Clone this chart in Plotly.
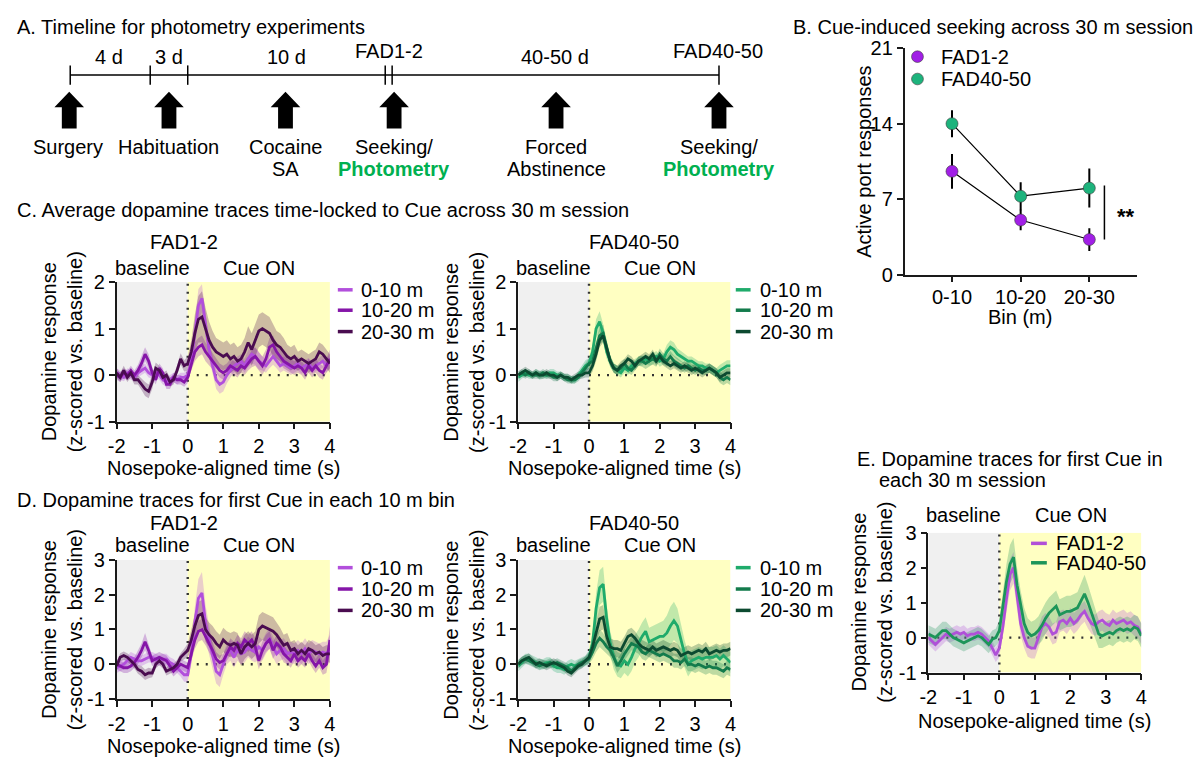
import plotly.graph_objects as go

W, H = 1197, 771
FONT = "Liberation Sans, Arial, sans-serif"
FS = 20

# ---------------- DATA ----------------
BINS = ["0-10", "10-20", "20-30"]
SEEK_FAD12 = [9.6, 5.1, 3.3]
SEEK_FAD12_SEM = [1.6, 0.95, 1.05]
SEEK_FAD4050 = [14.0, 7.3, 8.05]
SEEK_FAD4050_SEM = [1.25, 1.3, 1.8]

TIME = [-2.0, -1.9, -1.8, -1.7, -1.6, -1.5, -1.4, -1.3, -1.2, -1.1,
        -1.0, -0.9, -0.8, -0.7, -0.6, -0.5, -0.4, -0.3, -0.2, -0.1,
        0.0, 0.1, 0.2, 0.3, 0.4, 0.5, 0.6, 0.7, 0.8, 0.9,
        1.0, 1.1, 1.2, 1.3, 1.4, 1.5, 1.6, 1.7, 1.8, 1.9,
        2.0, 2.1, 2.2, 2.3, 2.4, 2.5, 2.6, 2.7, 2.8, 2.9,
        3.0, 3.1, 3.2, 3.3, 3.4, 3.5, 3.6, 3.7, 3.8, 3.9, 4.0]
X_TICKS = [-2, -1, 0, 1, 2, 3, 4]
X_TICKTEXT = ["-2", "-1", "0", "1", "2", "3", "4"]
BIN_LABELS = ["0-10 m", "10-20 m", "20-30 m"]

# C: average traces, FAD1-2
C12_0_10 = [0.05, 0.0, -0.05, 0.05, 0.0, -0.05, 0.05, 0.1, 0.15, 0.05,
            0.0, 0.05, 0.0, -0.1, -0.15, -0.1, -0.05, -0.1, -0.05, -0.05,
            0.0, 0.3, 0.9, 1.5, 1.65, 1.1, 0.55, 0.2, -0.1, -0.2,
            -0.15, 0.0, 0.1, 0.2, 0.25, 0.3, 0.2, 0.35, 0.45, 0.4,
            0.3, 0.25, 0.2, 0.3, 0.4, 0.3, 0.2, 0.25, 0.2, 0.15,
            0.2, 0.25, 0.15, 0.2, 0.25, 0.15, 0.2, 0.25, 0.3, 0.2, 0.3]
C12_0_10_SEM = [0.1, 0.1, 0.08, 0.1, 0.1, 0.08, 0.1, 0.1, 0.1, 0.1,
                0.08, 0.1, 0.1, 0.1, 0.1, 0.1, 0.1, 0.1, 0.1, 0.1,
                0.12, 0.2, 0.3, 0.35, 0.3, 0.25, 0.2, 0.2, 0.2, 0.2,
                0.2, 0.18, 0.15, 0.15, 0.15, 0.15, 0.15, 0.18, 0.2, 0.18,
                0.18, 0.15, 0.15, 0.15, 0.18, 0.15, 0.15, 0.15, 0.15, 0.15,
                0.15, 0.15, 0.12, 0.12, 0.12, 0.12, 0.12, 0.12, 0.15, 0.15, 0.15]
C12_10_20 = [0.0, -0.05, 0.05, 0.0, 0.1, 0.0, 0.1, 0.25, 0.45, 0.3,
             0.05, -0.1, 0.15, 0.05, -0.2, -0.2, -0.05, -0.1, -0.1, -0.15,
             -0.05, 0.25, 0.5, 0.6, 0.65, 0.5, 0.4, 0.3, 0.2, 0.1,
             0.05, 0.1, 0.2, 0.15, 0.1, 0.2, 0.15, 0.25, 0.35, 0.4,
             0.3, 0.2, 0.35, 0.6, 0.65, 0.5, 0.4, 0.3, 0.25, 0.2,
             0.15, 0.2, 0.15, 0.05, 0.2, 0.1, 0.2, 0.1, 0.05, 0.2, 0.35]
C12_10_20_SEM = [0.1, 0.1, 0.1, 0.1, 0.1, 0.1, 0.12, 0.15, 0.15, 0.15,
                 0.12, 0.1, 0.1, 0.1, 0.1, 0.1, 0.1, 0.1, 0.1, 0.1,
                 0.12, 0.15, 0.2, 0.2, 0.2, 0.2, 0.18, 0.18, 0.15, 0.15,
                 0.15, 0.15, 0.15, 0.15, 0.15, 0.15, 0.15, 0.15, 0.18, 0.2,
                 0.2, 0.2, 0.2, 0.2, 0.2, 0.18, 0.15, 0.15, 0.15, 0.15,
                 0.15, 0.15, 0.15, 0.15, 0.15, 0.15, 0.15, 0.15, 0.15, 0.15, 0.2]
C12_20_30 = [0.05, -0.05, 0.1, -0.05, 0.05, -0.1, -0.1, -0.2, -0.3, -0.35,
             -0.15, 0.15, 0.1, -0.05, 0.0, -0.15, -0.1, 0.1, 0.35, 0.2,
             0.25, 0.5, 0.9, 1.2, 1.25, 1.0, 0.75, 0.6, 0.5, 0.45,
             0.4, 0.45, 0.35, 0.4, 0.3, 0.35, 0.5, 0.7, 0.55, 0.75,
             0.95, 1.0, 0.95, 0.9, 0.75, 0.65, 0.6, 0.5, 0.4, 0.35,
             0.4, 0.3, 0.35, 0.3, 0.25, 0.3, 0.35, 0.5, 0.45, 0.35, 0.25]
C12_20_30_SEM = [0.1, 0.1, 0.1, 0.1, 0.1, 0.1, 0.1, 0.12, 0.15, 0.15,
                 0.15, 0.12, 0.1, 0.1, 0.1, 0.1, 0.1, 0.1, 0.12, 0.12,
                 0.15, 0.25, 0.4, 0.5, 0.55, 0.45, 0.4, 0.35, 0.3, 0.3,
                 0.3, 0.3, 0.3, 0.3, 0.3, 0.3, 0.3, 0.35, 0.35, 0.35,
                 0.35, 0.35, 0.35, 0.35, 0.35, 0.3, 0.3, 0.3, 0.25, 0.25,
                 0.25, 0.2, 0.2, 0.2, 0.2, 0.2, 0.2, 0.2, 0.2, 0.2, 0.2]

# C: average traces, FAD40-50
C4050_0_10 = [-0.05, 0.0, 0.05, 0.0, 0.0, 0.05, 0.0, 0.0, 0.0, 0.05,
              0.05, 0.0, 0.0, -0.05, -0.05, -0.1, -0.1, 0.0, 0.1, 0.2,
              0.25, 0.5, 1.0, 1.15, 0.9, 0.5, 0.3, 0.15, 0.1, 0.05,
              0.15, 0.1, 0.2, 0.25, 0.3, 0.3, 0.35, 0.3, 0.35, 0.4,
              0.3, 0.35, 0.5, 0.6, 0.55, 0.45, 0.4, 0.35, 0.3, 0.3,
              0.25, 0.2, 0.2, 0.15, 0.15, 0.1, 0.05, 0.1, 0.15, 0.2, 0.2]
C4050_0_10_SEM = [0.1, 0.08, 0.08, 0.08, 0.08, 0.08, 0.1, 0.08, 0.08, 0.08,
                  0.08, 0.08, 0.08, 0.08, 0.08, 0.08, 0.08, 0.1, 0.1, 0.12,
                  0.12, 0.15, 0.2, 0.22, 0.2, 0.15, 0.12, 0.1, 0.1, 0.1,
                  0.1, 0.1, 0.1, 0.1, 0.1, 0.1, 0.1, 0.1, 0.12, 0.12,
                  0.12, 0.12, 0.15, 0.15, 0.15, 0.12, 0.12, 0.1, 0.1, 0.1,
                  0.1, 0.1, 0.1, 0.1, 0.1, 0.1, 0.1, 0.12, 0.12, 0.12, 0.12]
C4050_10_20 = [0.0, 0.05, 0.0, 0.05, 0.0, 0.0, 0.0, 0.05, 0.0, 0.0,
               -0.05, -0.05, 0.0, -0.05, -0.1, -0.1, -0.1, -0.05, 0.05, 0.15,
               0.25, 0.3, 0.55, 0.85, 0.9, 0.6, 0.3, 0.15, 0.1, 0.15,
               0.25, 0.15, 0.1, 0.2, 0.3, 0.3, 0.25, 0.3, 0.35, 0.3,
               0.45, 0.35, 0.3, 0.4, 0.3, 0.25, 0.2, 0.15, 0.2, 0.15,
               0.1, 0.15, 0.1, 0.1, 0.15, 0.1, 0.05, -0.05, -0.1, -0.05, -0.1]
C4050_10_20_SEM = [0.08, 0.08, 0.08, 0.08, 0.08, 0.08, 0.08, 0.08, 0.08, 0.08,
                   0.08, 0.08, 0.08, 0.08, 0.08, 0.08, 0.08, 0.08, 0.1, 0.1,
                   0.12, 0.12, 0.15, 0.18, 0.18, 0.15, 0.12, 0.1, 0.1, 0.1,
                   0.1, 0.1, 0.1, 0.1, 0.1, 0.12, 0.12, 0.12, 0.12, 0.12,
                   0.12, 0.12, 0.12, 0.12, 0.12, 0.12, 0.1, 0.1, 0.1, 0.1,
                   0.1, 0.1, 0.1, 0.1, 0.1, 0.1, 0.1, 0.12, 0.12, 0.12, 0.12]
C4050_20_30 = [0.0, 0.05, 0.1, 0.05, 0.0, 0.05, 0.0, 0.0, 0.05, 0.0,
               0.0, -0.05, 0.0, -0.05, -0.05, -0.1, -0.05, 0.0, 0.0, 0.05,
               0.05, 0.2, 0.45, 0.75, 0.85, 0.55, 0.3, 0.15, 0.1, 0.2,
               0.25, 0.35, 0.3, 0.2, 0.3, 0.35, 0.4, 0.35, 0.45, 0.3,
               0.4, 0.3, 0.25, 0.2, 0.25, 0.2, 0.15, 0.2, 0.15, 0.1,
               0.15, 0.1, 0.05, 0.1, 0.15, 0.1, 0.05, -0.05, 0.0, 0.05, 0.05]
C4050_20_30_SEM = [0.08, 0.08, 0.08, 0.08, 0.08, 0.08, 0.08, 0.08, 0.08, 0.08,
                   0.08, 0.08, 0.08, 0.08, 0.08, 0.08, 0.08, 0.08, 0.08, 0.1,
                   0.1, 0.12, 0.15, 0.15, 0.15, 0.12, 0.1, 0.1, 0.1, 0.1,
                   0.1, 0.1, 0.1, 0.1, 0.1, 0.1, 0.1, 0.1, 0.1, 0.1,
                   0.1, 0.1, 0.1, 0.1, 0.1, 0.1, 0.1, 0.1, 0.1, 0.1,
                   0.1, 0.1, 0.1, 0.1, 0.1, 0.1, 0.1, 0.1, 0.1, 0.1, 0.1]

# D: first cue in each bin, FAD1-2
D12_0_10 = [-0.1, -0.05, 0.0, 0.1, 0.2, 0.15, 0.1, 0.1, 0.15, 0.2,
            0.2, 0.15, 0.1, 0.15, 0.15, 0.05, 0.0, -0.1, -0.2, -0.3,
            -0.3, 0.3, 1.2, 1.9, 2.05, 1.2, 0.7, 0.2, -0.2, -0.3,
            0.0, 0.3, 0.4, 0.2, 0.4, 0.3, 0.35, 0.5, 0.4, 0.35,
            0.5, 0.4, 0.6, 0.75, 0.5, 0.3, 0.4, 0.45, 0.3, 0.35,
            0.3, 0.4, 0.3, 0.45, 0.3, 0.4, 0.35, 0.3, 0.35, 0.3, 0.45]
D12_0_10_SEM = [0.15, 0.15, 0.15, 0.15, 0.15, 0.15, 0.15, 0.15, 0.15, 0.15,
                0.15, 0.15, 0.15, 0.15, 0.15, 0.15, 0.15, 0.15, 0.15, 0.2,
                0.2, 0.3, 0.45, 0.55, 0.6, 0.5, 0.4, 0.35, 0.35, 0.35,
                0.3, 0.3, 0.3, 0.3, 0.3, 0.3, 0.3, 0.3, 0.3, 0.3,
                0.3, 0.3, 0.3, 0.3, 0.3, 0.3, 0.3, 0.3, 0.3, 0.3,
                0.3, 0.3, 0.3, 0.3, 0.3, 0.3, 0.3, 0.3, 0.3, 0.35, 0.4]
D12_10_20 = [0.0, -0.05, -0.1, -0.1, -0.05, 0.05, 0.2, 0.4, 0.65, 0.4,
             0.1, 0.15, 0.2, 0.15, 0.1, -0.05, -0.2, -0.1, 0.0, -0.05,
             -0.1, 0.3, 0.7, 0.95, 1.0, 0.8, 0.6, 0.4, 0.15, 0.05,
             0.1, 0.3, 0.5, 0.4, 0.6, 0.5, 0.7, 0.6, 0.7, 0.5,
             0.1, 0.4, 0.6, 0.7, 0.4, 0.6, 0.5, 0.3, 0.2, 0.1,
             0.3, 0.1, 0.2, 0.1, 0.3, 0.1, -0.05, 0.1, -0.1, 0.0, 0.7]
D12_10_20_SEM = [0.15, 0.15, 0.15, 0.15, 0.15, 0.15, 0.2, 0.2, 0.25, 0.2,
                 0.15, 0.15, 0.15, 0.15, 0.15, 0.15, 0.15, 0.15, 0.15, 0.15,
                 0.15, 0.2, 0.25, 0.3, 0.3, 0.25, 0.25, 0.25, 0.2, 0.2,
                 0.2, 0.2, 0.25, 0.25, 0.25, 0.25, 0.25, 0.25, 0.25, 0.25,
                 0.25, 0.25, 0.25, 0.25, 0.25, 0.25, 0.25, 0.25, 0.2, 0.2,
                 0.2, 0.2, 0.2, 0.2, 0.2, 0.2, 0.2, 0.2, 0.2, 0.25, 0.4]
D12_20_30 = [-0.05, 0.2, 0.25, 0.2, 0.1, 0.0, -0.15, -0.2, -0.3, -0.25,
             -0.25, 0.0, 0.1, 0.0, -0.2, -0.15, -0.1, 0.0, 0.2, 0.3,
             0.4, 0.7, 1.1, 1.4, 1.45, 1.0, 0.85, 0.75, 0.6, 0.5,
             0.7, 0.6, 0.55, 0.6, 0.55, 0.3, 0.5, 0.6, 0.5, 0.6,
             1.0, 1.1, 1.05, 1.0, 0.95, 0.85, 0.7, 0.55, 0.6, 0.4,
             0.45, 0.3, 0.4, 0.3, 0.45, 0.4, 0.3, 0.35, 0.25, 0.3, 0.3]
D12_20_30_SEM = [0.12, 0.12, 0.12, 0.12, 0.12, 0.12, 0.12, 0.15, 0.15, 0.15,
                 0.12, 0.12, 0.12, 0.12, 0.12, 0.12, 0.12, 0.12, 0.12, 0.15,
                 0.2, 0.3, 0.35, 0.4, 0.4, 0.35, 0.35, 0.35, 0.35, 0.35,
                 0.35, 0.35, 0.35, 0.35, 0.35, 0.35, 0.35, 0.35, 0.35, 0.35,
                 0.4, 0.4, 0.4, 0.4, 0.4, 0.35, 0.35, 0.3, 0.3, 0.25,
                 0.25, 0.25, 0.25, 0.25, 0.25, 0.25, 0.25, 0.25, 0.25, 0.25, 0.25]

# D: first cue in each bin, FAD40-50
D4050_0_10 = [-0.05, 0.05, 0.15, 0.15, 0.1, 0.05, 0.0, 0.0, 0.05, 0.05,
              -0.05, -0.1, -0.1, -0.15, -0.05, 0.0, -0.05, 0.0, 0.05, 0.1,
              0.2, 0.6, 1.6, 2.2, 2.3, 1.3, 0.6, 0.2, 0.0, -0.05,
              0.1, 0.0, 0.2, 0.45, 0.6, 0.8, 0.95, 0.65, 0.7, 0.75,
              0.8, 0.8, 0.9, 1.1, 1.25, 1.1, 0.7, 0.3, 0.0, 0.1,
              0.15, 0.2, 0.15, 0.2, 0.2, 0.2, 0.25, 0.15, 0.25, 0.15, 0.05]
D4050_0_10_SEM = [0.15, 0.15, 0.15, 0.15, 0.15, 0.15, 0.15, 0.15, 0.15, 0.15,
                  0.15, 0.15, 0.15, 0.15, 0.15, 0.15, 0.15, 0.15, 0.15, 0.15,
                  0.2, 0.3, 0.45, 0.5, 0.5, 0.4, 0.35, 0.35, 0.35, 0.35,
                  0.35, 0.35, 0.4, 0.4, 0.4, 0.4, 0.4, 0.4, 0.4, 0.4,
                  0.4, 0.45, 0.5, 0.55, 0.55, 0.5, 0.45, 0.4, 0.35, 0.3,
                  0.3, 0.3, 0.3, 0.3, 0.3, 0.3, 0.3, 0.3, 0.3, 0.3, 0.3]
D4050_10_20 = [0.0, 0.1, 0.15, 0.1, 0.05, 0.0, -0.05, 0.0, 0.0, 0.05,
               0.0, 0.05, 0.0, -0.05, -0.1, -0.2, -0.1, 0.0, 0.05, 0.1,
               0.15, 0.35, 0.6, 0.75, 0.65, 0.5, 0.4, 0.2, -0.05, 0.1,
               0.3, 0.45, 0.6, 0.55, 0.5, 0.35, 0.3, 0.4, 0.35, 0.3,
               0.25, 0.3, 0.25, 0.2, 0.1, 0.1, 0.05, 0.15, 0.0, 0.0,
               -0.05, 0.0, -0.05, -0.1, -0.05, -0.1, -0.1, -0.15, -0.2, -0.1, -0.15]
D4050_10_20_SEM = [0.12, 0.12, 0.12, 0.12, 0.12, 0.12, 0.12, 0.12, 0.12, 0.12,
                   0.12, 0.12, 0.12, 0.12, 0.12, 0.12, 0.12, 0.12, 0.12, 0.12,
                   0.15, 0.2, 0.25, 0.25, 0.25, 0.2, 0.2, 0.2, 0.2, 0.2,
                   0.2, 0.2, 0.2, 0.2, 0.2, 0.2, 0.2, 0.2, 0.2, 0.2,
                   0.2, 0.2, 0.2, 0.2, 0.2, 0.2, 0.2, 0.2, 0.2, 0.2,
                   0.2, 0.2, 0.2, 0.2, 0.2, 0.2, 0.2, 0.2, 0.2, 0.2, 0.2]
D4050_20_30 = [0.0, 0.1, 0.15, 0.2, 0.1, 0.0, 0.05, 0.0, -0.05, 0.0,
               0.05, 0.0, -0.05, -0.1, -0.2, -0.25, -0.15, -0.05, 0.0, 0.1,
               0.2, 0.5, 0.9, 1.3, 1.35, 0.8, 0.5, 0.45, 0.45, 0.4,
               0.6, 0.8, 0.85, 0.75, 0.6, 0.5, 0.45, 0.4, 0.5, 0.4,
               0.45, 0.5, 0.45, 0.4, 0.45, 0.4, 0.25, 0.3, 0.35, 0.3,
               0.35, 0.4, 0.35, 0.45, 0.3, 0.35, 0.4, 0.35, 0.4, 0.4, 0.45]
D4050_20_30_SEM = [0.12, 0.12, 0.12, 0.12, 0.12, 0.12, 0.12, 0.12, 0.12, 0.12,
                   0.12, 0.12, 0.12, 0.12, 0.12, 0.12, 0.12, 0.12, 0.12, 0.12,
                   0.15, 0.25, 0.3, 0.35, 0.35, 0.3, 0.25, 0.25, 0.25, 0.25,
                   0.2, 0.2, 0.2, 0.2, 0.2, 0.2, 0.2, 0.2, 0.2, 0.2,
                   0.2, 0.2, 0.2, 0.2, 0.2, 0.2, 0.2, 0.2, 0.2, 0.2,
                   0.2, 0.2, 0.2, 0.2, 0.2, 0.2, 0.2, 0.2, 0.2, 0.2, 0.2]

# E: first cue in each session
E_FAD12 = [0.0, -0.1, -0.2, -0.1, 0.0, 0.1, 0.05, 0.1, 0.15, 0.1,
           0.15, 0.05, 0.1, 0.1, 0.15, 0.1, 0.0, -0.1, -0.3, -0.5,
           -0.3, 0.3, 1.1, 1.8, 2.0, 1.2, 0.4, 0.0, -0.25, -0.3,
           -0.3, 0.0, 0.3, 0.4, 0.3, 0.1, 0.15, 0.45, 0.5, 0.4,
           0.55, 0.4, 0.5, 0.65, 0.75, 0.55, 0.4, 0.35, 0.45, 0.5,
           0.4, 0.35, 0.5, 0.4, 0.45, 0.5, 0.4, 0.45, 0.35, 0.3, 0.1]
E_FAD12_SEM = [0.2, 0.2, 0.2, 0.2, 0.2, 0.2, 0.2, 0.2, 0.2, 0.2,
               0.2, 0.2, 0.2, 0.2, 0.2, 0.2, 0.2, 0.2, 0.2, 0.2,
               0.25, 0.3, 0.4, 0.45, 0.45, 0.4, 0.35, 0.3, 0.3, 0.3,
               0.3, 0.3, 0.3, 0.3, 0.3, 0.3, 0.3, 0.3, 0.3, 0.3,
               0.3, 0.3, 0.3, 0.3, 0.3, 0.3, 0.3, 0.3, 0.3, 0.3,
               0.3, 0.3, 0.3, 0.3, 0.3, 0.3, 0.3, 0.3, 0.3, 0.3, 0.3]
E_FAD4050 = [0.1, 0.05, 0.0, 0.1, 0.2, 0.2, 0.1, 0.0, -0.05, -0.1,
             -0.15, -0.1, -0.05, 0.0, 0.05, 0.0, -0.1, -0.2, -0.05, 0.0,
             0.2, 0.9, 1.6, 2.1, 2.3, 1.5, 0.9, 0.4, 0.15, 0.05,
             0.1, 0.2, 0.35, 0.55, 0.7, 0.8, 0.9, 0.65, 0.7, 0.75,
             0.75, 0.8, 0.85, 1.05, 1.25, 1.0, 0.7, 0.4, 0.1, 0.05,
             0.1, 0.15, 0.1, 0.2, 0.25, 0.2, 0.25, 0.2, 0.3, 0.25, 0.05]
E_FAD4050_SEM = [0.25, 0.25, 0.25, 0.25, 0.25, 0.25, 0.25, 0.25, 0.25, 0.25,
                 0.25, 0.25, 0.25, 0.25, 0.25, 0.25, 0.25, 0.25, 0.25, 0.25,
                 0.3, 0.4, 0.5, 0.55, 0.55, 0.5, 0.45, 0.45, 0.4, 0.4,
                 0.4, 0.4, 0.45, 0.45, 0.45, 0.45, 0.45, 0.45, 0.45, 0.45,
                 0.45, 0.45, 0.45, 0.5, 0.55, 0.5, 0.45, 0.4, 0.4, 0.35,
                 0.35, 0.35, 0.35, 0.35, 0.35, 0.35, 0.35, 0.35, 0.35, 0.35, 0.35]

# ---------------- STYLE ----------------
P_COLORS = ["#B24FDC", "#8515A8", "#4A0C50"]
G_COLORS = ["#1FAB6B", "#137B4C", "#0C4A30"]
E_COLORS = ["#B050D8", "#1C9559"]
B_PURPLE = "#A11FE6"
B_GREEN = "#1DB37C"
PHOTO_GREEN = "#00B050"
AX = "#1a1a1a"
GREY_BG = "#F0F0F0"
YELLOW_BG = "#FFFFC2"


def fx(px):
    return px / W


def fy(py):
    return 1 - py / H


def rgba(hexc, a):
    h = hexc.lstrip("#")
    return "rgba(%d,%d,%d,%.2f)" % (int(h[0:2], 16), int(h[2:4], 16), int(h[4:6], 16), a)


fig = go.Figure()
annotations = []
shapes = []


def txt(text, x, y, size=FS, xanchor="center", color="black", angle=0, bold=False):
    if bold:
        text = "<b>" + text + "</b>"
    annotations.append(dict(text=text, x=fx(x), y=fy(y), xref="paper", yref="paper",
                            xanchor=xanchor, yanchor="middle", showarrow=False,
                            textangle=angle, font=dict(family=FONT, size=size, color=color)))


def pline(x0, y0, x1, y1, color="black", width=1.5, dash=None):
    d = dict(type="line", xref="paper", yref="paper", x0=fx(x0), y0=fy(y0), x1=fx(x1), y1=fy(y1),
             line=dict(color=color, width=width))
    if dash:
        d["line"]["dash"] = dash
    shapes.append(d)


def axstyle(**kw):
    d = dict(showline=True, linecolor=AX, linewidth=1.6, ticks="outside", ticklen=6,
             tickwidth=1.6, tickcolor=AX, showgrid=False, zeroline=False,
             tickfont=dict(family=FONT, size=FS, color="black"), fixedrange=True)
    d.update(kw)
    return d


# ---------------- PANEL A (timeline) ----------------
txt("A. Timeline for photometry experiments", 6, 16, xanchor="left")
TL_Y = 66
pline(62, TL_Y, 719, TL_Y, width=1.5)
for tx in [62, 143, 181, 381, 388, 719]:
    pline(tx, TL_Y - 10, tx, TL_Y + 10, width=1.5)
for label, x, y in [("4 d", 101, 47), ("3 d", 162, 47), ("10 d", 281, 47),
                    ("FAD1-2", 385, 41), ("40-50 d", 553, 47), ("FAD40-50", 718, 41)]:
    txt(label, x, y)
for ax_ in [61, 162, 280, 390, 554, 719]:
    path = ("M %f,%f L %f,%f L %f,%f L %f,%f L %f,%f L %f,%f L %f,%f Z" % (
        fx(ax_), fy(83), fx(ax_ + 15), fy(99), fx(ax_ + 7.5), fy(99), fx(ax_ + 7.5), fy(121),
        fx(ax_ - 7.5), fy(121), fx(ax_ - 7.5), fy(99), fx(ax_ - 15), fy(99)))
    shapes.append(dict(type="path", xref="paper", yref="paper", path=path,
                       fillcolor="black", line=dict(width=0)))
txt("Surgery", 60, 140)
txt("Habituation", 162, 140)
txt("Cocaine", 280, 140)
txt("SA", 280, 163)
txt("Seeking/", 390, 140)
txt("Photometry", 390, 163, color=PHOTO_GREEN, bold=True)
txt("Forced", 554, 140)
txt("Abstinence", 554, 163)
txt("Seeking/", 719, 140)
txt("Photometry", 719, 163, color=PHOTO_GREEN, bold=True)

# ---------------- PANEL B ----------------
txt("B. Cue-induced seeking across 30 m session", 792, 16, xanchor="left")
BX = list(range(len(BINS)))
for vals, sem, col, name in [(SEEK_FAD12, SEEK_FAD12_SEM, B_PURPLE, "FAD1-2"),
                             (SEEK_FAD4050, SEEK_FAD4050_SEM, B_GREEN, "FAD40-50")]:
    fig.add_trace(go.Scatter(x=BX, y=vals, xaxis="x", yaxis="y", mode="lines+markers",
                             name=name, showlegend=False,
                             line=dict(color="black", width=1.2),
                             marker=dict(color=col, size=12, line=dict(color="#3a3a3a", width=0.6)),
                             error_y=dict(type="data", array=sem, visible=True, color="black",
                                          thickness=2, width=0)))
for (name, col, yy) in [("FAD1-2", B_PURPLE, 47), ("FAD40-50", B_GREEN, 70)]:
    shapes.append(dict(type="circle", xref="paper", yref="paper",
                       x0=fx(914), x1=fx(926), y0=fy(yy + 6), y1=fy(yy - 6),
                       fillcolor=col, line=dict(color="#3a3a3a", width=0.6)))
    txt(name, 942, yy, xanchor="left")
# significance marker
shapes.append(dict(type="line", xref="x", yref="y", x0=2.22, x1=2.22, y0=3.3, y1=8.3,
                   line=dict(color="black", width=1.5)))
annotations.append(dict(text="<b>**</b>", x=2.53, y=5.4, xref="x", yref="y", showarrow=False,
                        font=dict(family=FONT, size=22, color="black")))
txt("Active port responses", 865, 155, angle=-90)
txt("Bin (m)", 1024, 315)

layout_axes = {}
layout_axes["xaxis"] = axstyle(domain=[fx(907), fx(1142)], range=[-0.69, 2.69], anchor="y",
                               tickvals=BX, ticktext=BINS, ticklen=5, ticklabelstandoff=-2)
layout_axes["yaxis"] = axstyle(domain=[fy(272), fy(38)], range=[0, 21], anchor="x",
                               tickvals=[0, 7, 14, 21], ticktext=["0", "7", "14", "21"])

# ---------------- TRACE PANELS ----------------
def trace_panel(n, xdom, ydom, yrange, yticks, series, sems, colors, hline_from=0):
    xa, ya = "x%d" % n, "y%d" % n
    layout_axes["xaxis%d" % n] = axstyle(domain=[fx(xdom[0]), fx(xdom[1])], range=[-2, 4],
                                         anchor=ya, tickvals=X_TICKS, ticktext=X_TICKTEXT)
    layout_axes["yaxis%d" % n] = axstyle(domain=[fy(ydom[1]), fy(ydom[0])], range=yrange,
                                         anchor=xa, tickvals=yticks,
                                         ticktext=[str(v) for v in yticks])
    shapes.append(dict(type="rect", xref=xa, yref=ya, x0=-2, x1=0, y0=yrange[0], y1=yrange[1],
                       fillcolor=GREY_BG, line=dict(width=0), layer="below"))
    shapes.append(dict(type="rect", xref=xa, yref=ya, x0=0, x1=4, y0=yrange[0], y1=yrange[1],
                       fillcolor=YELLOW_BG, line=dict(width=0), layer="below"))
    shapes.append(dict(type="line", xref=xa, yref=ya, x0=0, x1=0, y0=yrange[0], y1=yrange[1],
                       line=dict(color="#333333", width=2.4, dash="2px,6px"), layer="below"))
    shapes.append(dict(type="line", xref=xa, yref=ya, x0=hline_from, x1=4, y0=0, y1=0,
                       line=dict(color="#333333", width=2.4, dash="2px,7px"), layer="below"))
    for vals, sem, col in zip(series, sems, colors):
        up = [v + s for v, s in zip(vals, sem)]
        lo = [v - s for v, s in zip(vals, sem)]
        fig.add_trace(go.Scatter(x=TIME + TIME[::-1], y=up + lo[::-1], xaxis=xa, yaxis=ya,
                                 fill="toself", fillcolor=rgba(col, 0.28), mode="lines",
                                 line=dict(width=0), hoverinfo="skip", showlegend=False))
    for vals, col in zip(series, colors):
        fig.add_trace(go.Scatter(x=TIME, y=vals, xaxis=xa, yaxis=ya, mode="lines",
                                 line=dict(color=col, width=2.8), showlegend=False))


def line_legend(x0, x1, tx, ys, labels, colors):
    for yy, lab, col in zip(ys, labels, colors):
        pline(x0, yy, x1, yy, color=col, width=3.5)
        txt(lab, tx, yy, xanchor="left")


YT3 = [-1, 0, 1, 2]
YT4 = [-1, 0, 1, 2, 3]

# C
txt("C. Average dopamine traces time-locked to Cue across 30 m session", 6, 205, xanchor="left")
trace_panel(2, (109, 325), (279, 422.7), [-1, 2], YT3,
            [C12_0_10, C12_10_20, C12_20_30], [C12_0_10_SEM, C12_10_20_SEM, C12_20_30_SEM], P_COLORS)
trace_panel(3, (515.7, 730.7), (279, 422.7), [-1, 2], YT3,
            [C4050_0_10, C4050_10_20, C4050_20_30],
            [C4050_0_10_SEM, C4050_10_20_SEM, C4050_20_30_SEM], G_COLORS)
for cx, title, tcx, leg_x0, leg_tx, cols in [(109, "FAD1-2", 177, 333, 354, P_COLORS),
                                             (515.7, "FAD40-50", 633, 736, 759, G_COLORS)]:
    off = cx - 109
    txt(title, tcx, 238)
    txt("baseline", 145 + off, 265)
    txt("Cue ON", 253 + off, 265)
    txt("Dopamine response<br>(z-scored vs. baseline)", 54 + off, 351, angle=-90)
    txt("Nosepoke-aligned time (s)", 217 + off, 470)
    line_legend(leg_x0, leg_x0 + 15, leg_tx, [287, 308, 330], BIN_LABELS, cols)

# D
txt("D. Dopamine traces for first Cue in each 10 m bin", 6, 503, xanchor="left")
trace_panel(4, (109, 325), (565, 708.3), [-1, 3], YT4,
            [D12_0_10, D12_10_20, D12_20_30], [D12_0_10_SEM, D12_10_20_SEM, D12_20_30_SEM], P_COLORS)
trace_panel(5, (515.7, 730.7), (565, 708.3), [-1, 3], YT4,
            [D4050_0_10, D4050_10_20, D4050_20_30],
            [D4050_0_10_SEM, D4050_10_20_SEM, D4050_20_30_SEM], G_COLORS)
for cx, title, tcx, leg_x0, leg_tx, cols in [(109, "FAD1-2", 177, 333, 354, P_COLORS),
                                             (515.7, "FAD40-50", 633, 736, 759, G_COLORS)]:
    off = cx - 109
    txt(title, tcx, 527)
    txt("baseline", 145 + off, 550)
    txt("Cue ON", 253 + off, 550)
    txt("Dopamine response<br>(z-scored vs. baseline)", 54 + off, 637, angle=-90)
    txt("Nosepoke-aligned time (s)", 217 + off, 757)
    line_legend(leg_x0, leg_x0 + 15, leg_tx, [573, 595, 617], BIN_LABELS, cols)

# E
txt("E. Dopamine traces for first Cue in", 857, 461, xanchor="left")
txt("each 30 m session", 879, 483, xanchor="left")
trace_panel(6, (931, 1146.7), (537, 681), [-1, 3], YT4,
            [E_FAD12, E_FAD4050], [E_FAD12_SEM, E_FAD4050_SEM], E_COLORS, hline_from=-2)
txt("baseline", 967, 519)
txt("Cue ON", 1075, 519)
txt("Dopamine response<br>(z-scored vs. baseline)", 874, 609, angle=-90)
txt("Nosepoke-aligned time (s)", 1039, 731)
line_legend(1035, 1051, 1058, [548, 568], ["FAD1-2", "FAD40-50"], E_COLORS)

fig.update_layout(width=W, height=H, autosize=False,
                  margin=dict(l=0, r=0, t=0, b=0, pad=0),
                  paper_bgcolor="white", plot_bgcolor="rgba(0,0,0,0)",
                  font=dict(family=FONT, size=FS, color="black"),
                  showlegend=False, annotations=annotations, shapes=shapes,
                  **layout_axes)
fig.write_html("out.html", config={"displayModeBar": False},
               post_script="document.body.style.margin='0px';")
